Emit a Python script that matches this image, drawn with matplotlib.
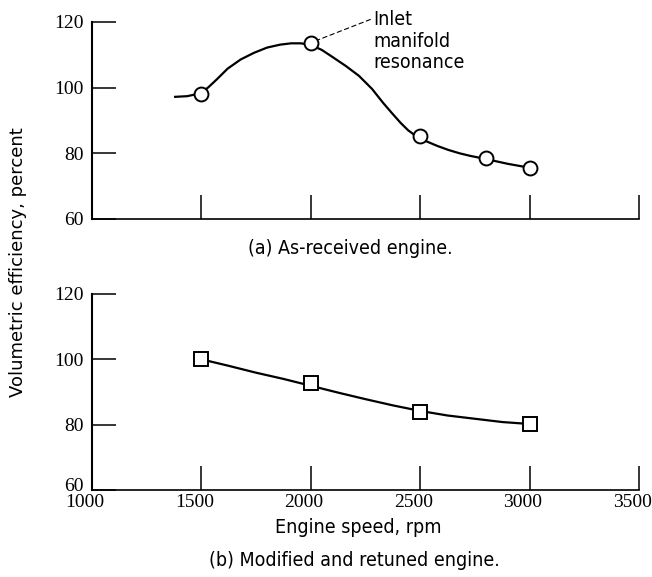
import matplotlib
matplotlib.use("Agg")
import matplotlib.pyplot as plt
import matplotlib.transforms as mtransforms

# (a) as-received engine: measured points and the faired curve through them
speed_a = [1500, 2000, 2500, 2800, 3000]
eff_a = [98.0, 113.6, 85.2, 78.6, 75.6]
curve_speed_a = [1380, 1435, 1490, 1530, 1570, 1620, 1680, 1740, 1800, 1860, 1910, 1955, 2000,
                 2050, 2100, 2160, 2220, 2280, 2330, 2370, 2410, 2445, 2480, 2530, 2580, 2630,
                 2680, 2730, 2790, 2900, 3000]
curve_eff_a = [97.2, 97.4, 98.2, 100.0, 102.5, 105.8, 108.6, 110.6, 112.2, 113.1, 113.5, 113.5, 113.0,
               111.5, 109.3, 106.6, 103.6, 99.6, 95.4, 92.3, 89.3, 87.0, 85.3, 83.6, 82.2, 81.0,
               80.0, 79.2, 78.4, 76.8, 75.6]

# (b) modified and retuned engine
speed_b = [1500, 2000, 2500, 3000]
eff_b = [100.0, 92.6, 84.0, 80.2]
curve_speed_b = [1500, 1625, 1750, 1875, 2000, 2125, 2250, 2375, 2500, 2625, 2750, 2875, 3000]
curve_eff_b = [100.0, 98.0, 95.9, 94.0, 91.9, 89.8, 87.8, 85.9, 84.2, 82.8, 81.8, 80.8, 80.2]

x_ticks = [1000, 1500, 2000, 2500, 3000, 3500]
y_ticks = [60, 80, 100, 120]

narrow = dict(family="DejaVu Sans", stretch="condensed", fontsize=14)
digits = dict(family="Liberation Serif", fontsize=14)

fig = plt.figure(figsize=(6.52, 5.77), dpi=100)
ax_a = fig.add_axes([0.1411, 0.6205, 0.839, 0.3414])
ax_b = fig.add_axes([0.1411, 0.1508, 0.839, 0.3397])

for ax in (ax_a, ax_b):
    ax.set_xlim(1000, 3500)
    ax.set_ylim(60, 120)
    ax.set_xticks(x_ticks)
    ax.set_yticks(y_ticks)
    ax.spines["top"].set_visible(False)
    ax.spines["right"].set_visible(False)
    ax.spines["left"].set_linewidth(1.5)
    ax.spines["bottom"].set_linewidth(1.2)
    ax.tick_params(direction="in", length=17, width=1.1, pad=6)
    for lab in ax.get_yticklabels():
        lab.set_fontfamily(digits["family"])
        lab.set_fontsize(digits["fontsize"])

ax_a.set_xticklabels([])
ax_b.tick_params(axis="x", pad=3)
shift = mtransforms.ScaledTranslation(-7 / 100, 0, fig.dpi_scale_trans)
for lab in ax_b.get_xticklabels():
    lab.set_fontfamily(digits["family"])
    lab.set_fontsize(digits["fontsize"])
    lab.set_transform(lab.get_transform() + shift)
# the lowest y label of the lower panel sits a little higher in the original
low = ax_b.get_yticklabels()[0]
low.set_transform(low.get_transform() + mtransforms.ScaledTranslation(0, 5 / 100, fig.dpi_scale_trans))

ax_a.plot(curve_speed_a, curve_eff_a, color="black", lw=1.6)
ax_a.plot(speed_a, eff_a, "o", ms=10, mfc="white", mec="black", mew=1.4, clip_on=False)
ax_b.plot(curve_speed_b, curve_eff_b, color="black", lw=1.6)
ax_b.plot(speed_b, eff_b, "s", ms=9.5, mfc="white", mec="black", mew=1.4, clip_on=False)

ax_a.annotate("Inlet\nmanifold\nresonance", xy=(2035, 114.6), xytext=(2285, 123.5),
              ha="left", va="top", linespacing=1.15, annotation_clip=False,
              arrowprops=dict(arrowstyle="-", linestyle=(0, (4, 3)), lw=0.8, color="black",
                              shrinkA=0, shrinkB=0, relpos=(-0.02, 0.86)),
              **narrow)

fig.text(0.028, 0.546, "Volumetric efficiency, percent", rotation=90,
         ha="center", va="center", fontsize=13, family="DejaVu Sans")
fig.text(0.537, 0.570, "(a) As-received engine.", ha="center", va="center", **narrow)
fig.text(0.549, 0.085, "Engine speed, rpm", ha="center", va="center", **narrow)
fig.text(0.544, 0.029, "(b) Modified and retuned engine.", ha="center", va="center", **narrow)

fig.savefig("out.png", dpi=100)
